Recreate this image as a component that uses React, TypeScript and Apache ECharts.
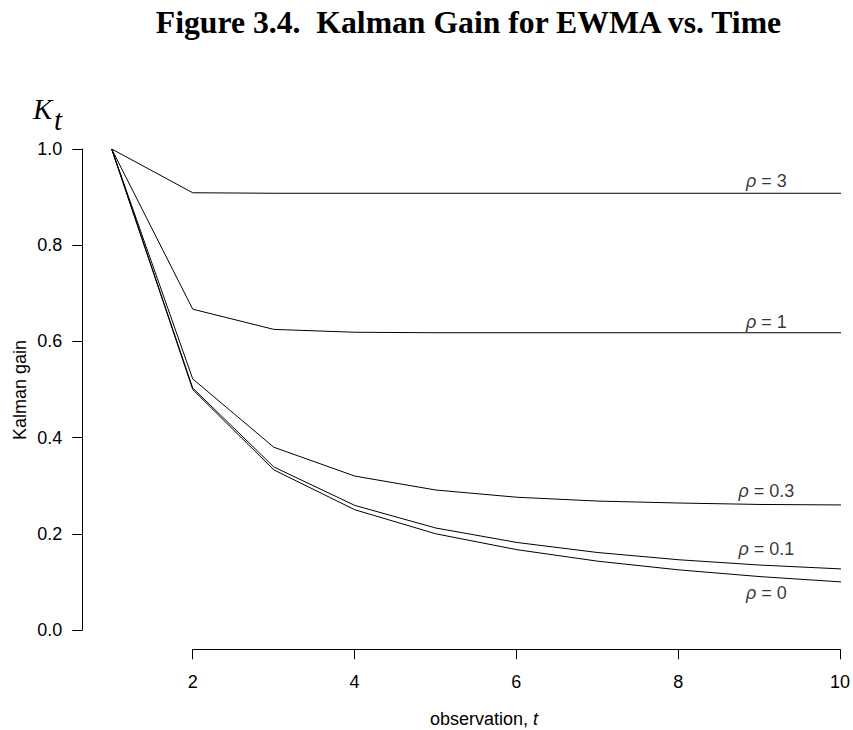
import React, { useEffect, useRef } from "react";
import * as echarts from "echarts";

const tValues = [1, 2, 3, 4, 5, 6, 7, 8, 9, 10];
const gainRho3 = [1, 0.909, 0.908, 0.908, 0.908, 0.908, 0.908, 0.908, 0.908, 0.908];
const gainRho1 = [1, 0.667, 0.625, 0.619, 0.618, 0.618, 0.618, 0.618, 0.618, 0.618];
const gainRho03 = [1, 0.522, 0.38, 0.32, 0.291, 0.276, 0.268, 0.264, 0.261, 0.26];
const gainRho01 = [1, 0.503, 0.339, 0.259, 0.212, 0.182, 0.161, 0.146, 0.135, 0.127];
const gainRho0 = [1, 0.5, 0.333, 0.25, 0.2, 0.167, 0.143, 0.125, 0.111, 0.1];

const seriesNames = ["ρ = 3", "ρ = 1", "ρ = 0.3", "ρ = 0.1", "ρ = 0"];
const seriesValues = [gainRho3, gainRho1, gainRho03, gainRho01, gainRho0];

// curve annotations (data coordinates)
const labelTexts = ["3", "1", "0.3", "0.1", "0"];
const labelX = [9.08, 9.08, 9.08, 9.08, 9.08];
const labelY = [0.9345, 0.64, 0.288, 0.1688, 0.0773];

const xTicks = [2, 4, 6, 8, 10];
const yTicks = [0, 0.2, 0.4, 0.6, 0.8, 1.0];

const SANS = '"Liberation Sans", Arial, Helvetica, sans-serif';
const SERIF = '"Liberation Serif", "Times New Roman", Times, serif';

export default function App() {
  const ref = useRef<HTMLDivElement>(null);

  useEffect(() => {
    if (!ref.current) return;
    const chart = echarts.init(ref.current, undefined, { renderer: "svg" });

    const lineSeries = seriesValues.map((vals, i) => ({
      name: seriesNames[i],
      type: "line",
      xAxisIndex: 0,
      yAxisIndex: 0,
      data: tValues.map((t, j) => [t, vals[j]]),
      symbol: "none",
      lineStyle: { color: "#000", width: 1 },
      silent: true,
    }));

    const labelSeries = {
      type: "scatter",
      xAxisIndex: 0,
      yAxisIndex: 0,
      symbolSize: 0,
      silent: true,
      data: labelTexts.map((txt, i) => ({
        value: [labelX[i], labelY[i]],
        name: txt,
      })),
      label: {
        show: true,
        position: "inside",
        formatter: (p: any) => "{r|ρ} = " + p.name,
        color: "#000",
        fontSize: 18,
        fontFamily: SANS,
        rich: {
          r: { fontSize: 18, fontFamily: SANS, fontStyle: "italic", color: "#000" },
        },
      },
    };

    chart.setOption({
      animation: false,
      backgroundColor: "#fff",
      grid: [
        { left: 111.7, right: 12, top: 149, bottom: 100 },
        { left: 192.7, right: 12, top: 149, bottom: 100 },
      ],
      xAxis: [
        { type: "value", gridIndex: 0, min: 1, max: 10, show: false },
        {
          type: "value",
          gridIndex: 1,
          min: xTicks[0],
          max: xTicks[xTicks.length - 1],
          interval: 2,
          position: "bottom",
          offset: 19.3,
          axisLine: { show: true, onZero: false, lineStyle: { color: "#000", width: 1 } },
          axisTick: { show: true, inside: false, length: 10, lineStyle: { color: "#000", width: 1 } },
          axisLabel: { show: true, color: "#000", fontSize: 18, fontFamily: SANS, margin: 23.4 },
          splitLine: { show: false },
        },
      ],
      yAxis: [
        {
          type: "value",
          gridIndex: 0,
          min: yTicks[0],
          max: yTicks[yTicks.length - 1],
          interval: 0.2,
          position: "left",
          offset: 29.4,
          axisLine: { show: true, onZero: false, lineStyle: { color: "#000", width: 1 } },
          axisTick: { show: true, inside: false, length: 10, lineStyle: { color: "#000", width: 1 } },
          axisLabel: {
            show: true,
            color: "#000",
            fontSize: 18,
            fontFamily: SANS,
            margin: 20,
            formatter: (v: number) => v.toFixed(1),
          },
          splitLine: { show: false },
        },
        { type: "value", gridIndex: 1, min: 0, max: 1, show: false },
      ],
      series: [...lineSeries, labelSeries],
      graphic: [
        {
          type: "text",
          x: 468.5,
          y: 22.2,
          style: {
            text: "Figure 3.4.\u00a0 Kalman Gain for EWMA vs. Time",
            font: "bold 31.7px " + SERIF,
            fill: "#000",
            align: "center",
            verticalAlign: "middle",
          },
        },
        {
          type: "text",
          x: 33,
          y: 108.5,
          style: {
            text: "K",
            font: "italic 29px " + SERIF,
            fill: "#000",
            align: "left",
            verticalAlign: "middle",
          },
        },
        {
          type: "text",
          x: 54,
          y: 119.5,
          style: {
            text: "t",
            font: "italic 29px " + SERIF,
            fill: "#000",
            align: "left",
            verticalAlign: "middle",
          },
        },
        {
          type: "text",
          x: 19.8,
          y: 390,
          rotation: Math.PI / 2,
          style: {
            text: "Kalman gain",
            font: "18px " + SANS,
            fill: "#000",
            align: "center",
            verticalAlign: "middle",
          },
        },
        {
          type: "text",
          x: 484,
          y: 718.8,
          style: {
            text: "{a|observation, }{b|t}",
            fill: "#000",
            align: "center",
            verticalAlign: "middle",
            rich: {
              a: { fontSize: 18, fontFamily: SANS, fill: "#000" },
              b: { fontSize: 18, fontFamily: SANS, fontStyle: "italic", fill: "#000" },
            },
          },
        },
      ],
    });

    return () => {
      chart.dispose();
    };
  }, []);

  return (
    <div
      ref={ref}
      style={{ position: "fixed", left: 0, top: 0, width: 853, height: 730, background: "#fff" }}
    />
  );
}
